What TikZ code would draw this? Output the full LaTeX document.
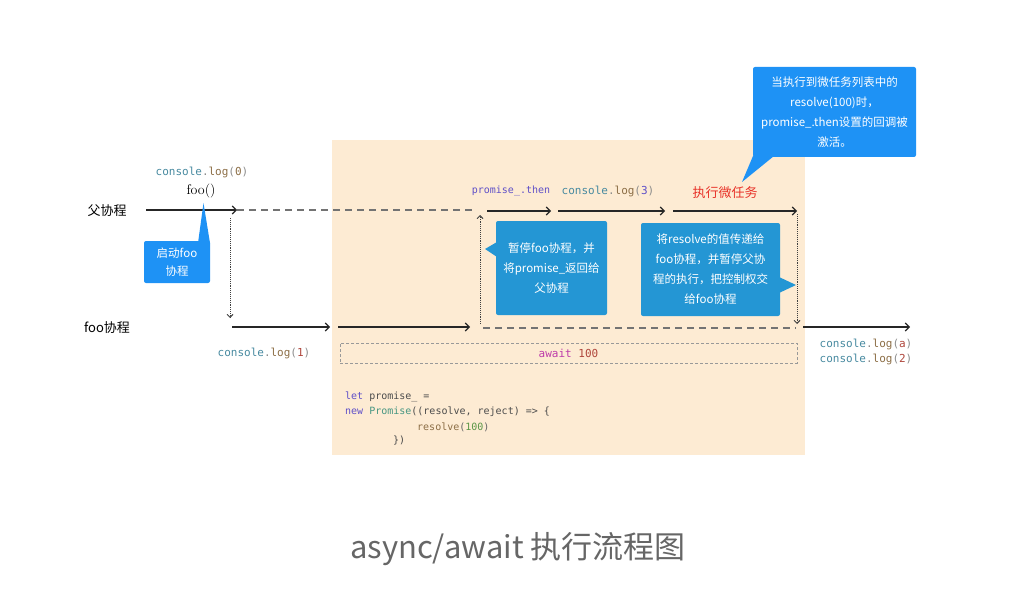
\documentclass[tikz,border=0pt]{standalone}
\usepackage{fontspec}
\setmonofont{DejaVu Sans Mono}
\newfontfamily\cjk{Noto Sans CJK SC}
\usetikzlibrary{arrows.meta}
\definecolor{peach}{RGB}{253,235,211}
\definecolor{bright}{RGB}{30,146,245}
\definecolor{deep}{RGB}{36,150,212}
\definecolor{cteal}{RGB}{72,138,160}
\definecolor{cgray}{RGB}{140,140,140}
\definecolor{cbrown}{RGB}{140,110,70}
\definecolor{cred}{RGB}{175,70,60}
\definecolor{cpurple}{RGB}{95,80,200}
\definecolor{cmagenta}{RGB}{190,60,170}
\definecolor{cgreen}{RGB}{90,150,70}
\definecolor{cmint}{RGB}{70,150,130}
\definecolor{hot}{RGB}{232,50,40}
\newcommand{\clog}[2]{\textcolor{cteal}{console}\textcolor{cgray}{.}\textcolor{cbrown}{log}\textcolor{cgray}{(}\textcolor{#1}{#2}\textcolor{cgray}{)}}
\begin{document}
\begin{tikzpicture}[x=1pt, y=-1pt,
		run/.style={-{Straight Barb[length=4pt, width=8pt]}, line width=1.1pt, black!85},
		idle/.style={dash pattern=on 7pt off 5pt, line width=1.1pt, black!55},
		hop/.style={-{Straight Barb[length=3pt, width=6pt]}, densely dotted, line width=0.9pt, black!75},
		lane/.style={font=\cjk\fontsize{13}{13}\selectfont, inner sep=0pt},
		code/.style={font=\ttfamily\fontsize{11}{11}\selectfont, inner sep=0pt},
		small/.style={font=\ttfamily\fontsize{10}{10}\selectfont, inner sep=0pt},
		note/.style={fill=#1, rounded corners=2pt, text=white, align=center, inner sep=0pt,
			font=\cjk\fontsize{11.5}{20}\selectfont}]
	\useasboundingbox (0,0) rectangle (1014,596);
	\fill[peach] (332,140) rectangle (805,455);

	\node[lane] (parent) at (107,211) {父协程};
	\node[lane] (child) at (107,328) {foo协程};

	\coordinate (p0) at (146,210);	\coordinate (p1) at (237,210);
	\coordinate (p2) at (474,210);	\coordinate (p3) at (487,211);
	\coordinate (p4) at (551,211);	\coordinate (p5) at (558,211);
	\coordinate (p6) at (665,211);	\coordinate (p7) at (673,211);
	\coordinate (p8) at (797,211);
	\coordinate (f0) at (232,327);	\coordinate (f1) at (330,327);
	\coordinate (f2) at (338,327);	\coordinate (f3) at (470,327);
	\coordinate (f4) at (483,328);	\coordinate (f5) at (796,328);
	\coordinate (f6) at (803,327);	\coordinate (f7) at (910,327);

	\draw[run]	(p0) -- (p1);
	\draw[idle]	(p1) -- (p2);
	\draw[run]	(p3) -- (p4);
	\draw[run]	(p5) -- (p6);
	\draw[run]	(p7) -- (p8);
	\draw[run]	(f0) -- (f1);
	\draw[run]	(f2) -- (f3);
	\draw[idle]	(f4) -- (f5);
	\draw[run]	(f6) -- (f7);

	\draw[hop]	(230,218) -- (230,318);
	\draw[hop]	(480,324) -- (480,215);
	\draw[hop]	(797,214) -- (797,324);

	\node[code] (log0) at (202,172) {\clog{cbrown}{0}};
	\node[inner sep=0pt, font=\fontsize{14}{14}\selectfont] (foo) at (201,191) {foo()};
	\node[code] (log1) at (264,353) {\clog{cred}{1}};
	\node[small] (then) at (511,191) {\textcolor{cpurple}{promise\_.then}};
	\node[code] (log3) at (608,191) {\clog{cpurple}{3}};
	\node[lane, text=hot] (micro) at (725,193) {执行微任务};
	\node[code, align=left, font=\ttfamily\fontsize{11}{15}\selectfont] (loga) at (866,352)
		{\clog{cred}{a}\\\clog{cred}{2}};

	\node[draw=black!40, densely dashed, line width=0.6pt, minimum width=457pt, minimum height=20pt,
		code] (await) at (568.5,353) {\textcolor{cmagenta}{await} \textcolor{cred}{100}};

	\node[small, anchor=west] (c1) at (345,397) {\textcolor{cpurple}{let} \textcolor{black!70}{promise\_ =}};
	\node[small, anchor=west] (c2) at (345,412) {\textcolor{cpurple}{new} \textcolor{cmint}{Promise}\textcolor{black!70}{((resolve, reject) => \{}};
	\node[small, anchor=west] (c3) at (417,427) {\textcolor{cbrown}{resolve}\textcolor{black!60}{(}\textcolor{cgreen}{100}\textcolor{black!60}{)}};
	\node[small, anchor=west] (c4) at (393,441) {\textcolor{black!70}{\})}};

	\node[note=bright, minimum width=66pt, minimum height=42pt, font=\cjk\fontsize{11.5}{18}\selectfont]
		(start) at (177,262) {启动foo\\协程};
	\fill[bright] (198,243) -- (210,243) -- (203.5,203) -- cycle;

	\node[note=deep, minimum width=111pt, minimum height=94pt] (pause) at (551.5,268)
		{暂停foo协程，并\\将promise\_返回给\\父协程};
	\fill[deep] (497,242) -- (497,257) -- (485,249) -- cycle;

	\node[note=deep, minimum width=139pt, minimum height=93pt] (hand) at (710.5,269.5)
		{将resolve的值传递给\\foo协程，并暂停父协\\程的执行，把控制权交\\给foo协程};
	\fill[deep] (779,277) -- (779,293) -- (796,285) -- cycle;

	\node[note=bright, minimum width=163pt, minimum height=90pt] (wake) at (834.5,112)
		{当执行到微任务列表中的\\resolve(100)时，\\promise\_.then设置的回调被\\激活。};
	\fill[bright] (753,156) -- (774,156) -- (742,182) -- cycle;

	\node[font=\cjk\fontsize{31}{31}\selectfont, text=black!60] (title) at (518,549) {async/await 执行流程图};
\end{tikzpicture}
\end{document}
